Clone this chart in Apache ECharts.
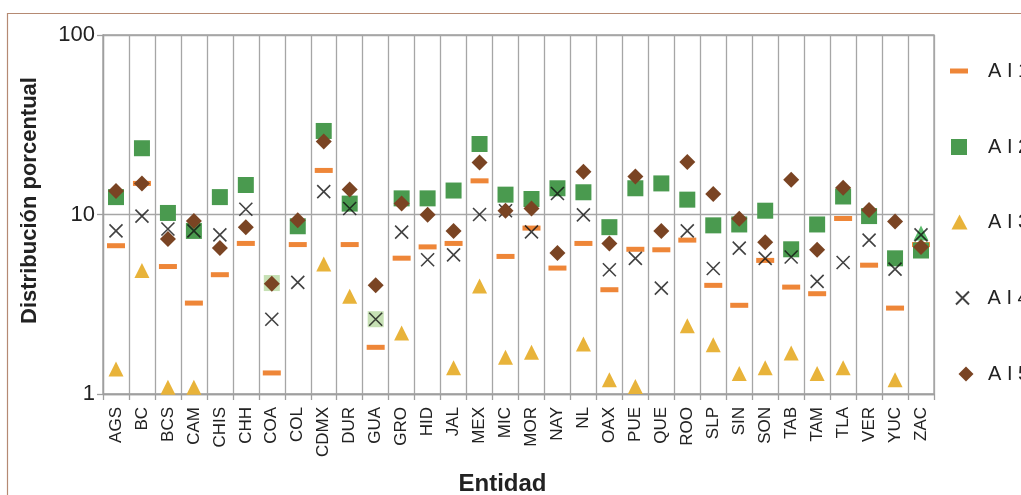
<!DOCTYPE html>
<html>
<head>
<meta charset="utf-8">
<script src="https://cdn.jsdelivr.net/npm/echarts@6/dist/echarts.min.js"></script>
<style>
  html, body { margin: 0; padding: 0; background: #ffffff; }
  #chart { width: 1021px; height: 495px; }
</style>
</head>
<body>
<div id="chart"></div>
<script>
// Entidades federativas
const categories = ['AGS','BC','BCS','CAM','CHIS','CHH','COA','COL','CDMX','DUR','GUA','GRO','HID','JAL','MEX','MIC','MOR','NAY','NL','OAX','PUE','QUE','ROO','SLP','SIN','SON','TAB','TAM','TLA','VER','YUC','ZAC'];

// Distribución porcentual por indicador (null = sin valor en la escala)
const ai1 = [6.7,14.9,5.13,3.21,4.62,6.9,1.31,6.8,17.6,6.8,1.82,5.71,6.6,6.9,15.4,5.84,8.4,5.03,6.9,3.81,6.4,6.36,7.2,4.03,3.12,5.55,3.94,3.62,9.5,5.22,3.01,6.8];
const ai2 = [12.5,23.4,10.2,8.1,12.5,14.6,4.15,8.6,29.2,11.5,2.61,12.3,12.3,13.6,24.7,12.9,12.2,14.0,13.3,8.5,14.0,14.9,12.1,8.7,8.8,10.5,6.4,8.8,12.6,9.8,5.7,6.3];
const ai3 = [1.38,4.88,1.09,1.09,null,null,null,null,5.3,3.5,null,2.19,null,1.40,4.0,1.60,1.71,null,1.90,1.20,1.10,null,2.40,1.88,1.30,1.40,1.69,1.30,1.40,null,1.20,7.9];
const ai4 = [8.1,9.8,8.3,8.1,7.7,10.7,2.61,4.19,13.4,10.8,2.61,7.97,5.6,5.96,10.0,10.5,8.0,13.1,9.96,4.92,5.7,3.89,8.1,5.0,6.5,5.7,5.8,4.24,5.4,7.2,4.96,7.7];
const ai5 = [13.5,14.9,7.3,9.2,6.5,8.5,4.11,9.3,25.5,13.8,4.03,11.5,9.96,8.1,19.5,10.5,10.8,6.1,17.3,6.9,16.3,8.1,19.6,13.0,9.46,7.0,15.6,6.36,14.1,10.6,9.15,6.6];

// Puntos destacados con color propio: [serie, entidad, color]
const highlights = [
  ['AI2', 'COA', '#c6e0b4'],
  ['AI2', 'GUA', '#c6e0b4'],
  ['AI3', 'ZAC', '#5bbb6b']
];

const yTicks = [1, 10, 100];

const crossPath = 'path://M0,0L10,10M0,10L10,0';

const seriesDefs = [
  { name: 'AI1', data: ai1, symbol: 'rect', size: [18, 5], color: '#ee8638', icon: 'rect', iw: 18, ih: 5, cx: 959, shift: 0 },
  { name: 'AI2', data: ai2, symbol: 'rect', size: [16, 16], color: '#4a9a4f', icon: 'rect', iw: 16, ih: 16, cx: 959, shift: 0 },
  { name: 'AI3', data: ai3, symbol: 'triangle', size: [15, 15], color: '#e8b33a', icon: 'triangle', iw: 16, ih: 15, cx: 959.5, shift: 0 },
  { name: 'AI4', data: ai4, symbol: crossPath, size: [13, 13], color: 'none', border: '#111111', icon: crossPath, iw: 13, ih: 13, cx: 960, shift: -3 },
  { name: 'AI5', data: ai5, symbol: 'diamond', size: [16, 16], color: '#7a4423', icon: 'diamond', iw: 15, ih: 15, cx: 966, shift: 0 }
];

function buildData(def) {
  return def.data.map(function (v, i) {
    const hl = highlights.find(function (h) { return h[0] === def.name && h[1] === categories[i]; });
    if (v === null) return [categories[i], null];
    if (hl) return { value: [categories[i], v], itemStyle: { color: hl[2] } };
    return [categories[i], v];
  });
}

const series = seriesDefs.map(function (def) {
  const itemStyle = def.border
    ? { color: 'none', borderColor: def.border, borderWidth: 1.6 }
    : { color: def.color, opacity: 1 };
  return {
    name: def.name,
    type: 'scatter',
    symbol: def.symbol,
    symbolSize: def.size,
    itemStyle: itemStyle,
    emphasis: { disabled: true },
    data: buildData(def)
  };
});

// Leyenda vertical a la derecha, una fila por indicador
const legendTextX = 988;
const legendRows = [71, 147, 222, 298, 374];
const legends = seriesDefs.map(function (def, i) {
  const left = def.cx - def.iw / 2;
  const pad = legendTextX - (left + def.iw + 5) + def.shift;
  return {
    data: [{ name: def.name, icon: def.icon }],
    left: left,
    top: legendRows[i] - 10,
    padding: 0,
    itemWidth: def.iw,
    itemHeight: def.ih,
    selectedMode: false,
    formatter: function (name) { return name.split('').join(' '); },
    textStyle: {
      fontFamily: 'Liberation Sans',
      fontSize: 20,
      lineHeight: 20,
      color: '#222222',
      padding: [0, 0, 0, pad]
    }
  };
});

const chart = echarts.init(document.getElementById('chart'), null, { renderer: 'canvas' });

chart.setOption({
  backgroundColor: '#ffffff',
  animation: false,
  textStyle: { fontFamily: 'Liberation Sans' },
  legend: legends,
  grid: {
    left: 103, right: 87, top: 35, bottom: 101,
    outerBoundsMode: 'none',
    show: true, borderColor: '#9f9f9f', borderWidth: 1.3,
    containLabel: false
  },
  xAxis: {
    type: 'category',
    data: categories,
    boundaryGap: true,
    name: 'Entidad',
    nameLocation: 'middle',
    nameGap: 78,
    nameTextStyle: { fontFamily: 'Liberation Sans', fontWeight: 'bold', fontSize: 24, color: '#222222', padding: [0, 32, 0, 0] },
    axisLine: { show: true, lineStyle: { color: '#9f9f9f', width: 1.3 } },
    axisTick: { show: true, length: 6, interval: 0, lineStyle: { color: '#9f9f9f', width: 1.3 } },
    axisLabel: { rotate: 90, interval: 0, margin: 13, fontSize: 17, color: '#222222', fontFamily: 'Liberation Sans' },
    splitLine: { show: true, interval: 0, lineStyle: { color: '#a6a6a6', width: 1.3 } }
  },
  yAxis: {
    type: 'log',
    logBase: 10,
    min: yTicks[0],
    max: yTicks[yTicks.length - 1],
    name: 'Distribución porcentual',
    nameLocation: 'middle',
    nameGap: 62,
    nameTextStyle: { fontFamily: 'Liberation Sans', fontWeight: 'bold', fontSize: 22, color: '#222222', padding: [0, 0, 0, 28] },
    axisLine: { show: true, lineStyle: { color: '#9f9f9f', width: 1.3 } },
    axisTick: { show: true, length: 6, lineStyle: { color: '#9f9f9f', width: 1.3 } },
    axisLabel: { fontSize: 22, color: '#222222', margin: 8, fontFamily: 'Liberation Sans' },
    splitLine: { show: true, lineStyle: { color: '#a6a6a6', width: 1.3 } }
  },
  graphic: [
    {
      type: 'polyline',
      silent: true,
      shape: { points: [[7.5, 495], [7.5, 13.5], [1021, 13.5]] },
      style: { stroke: '#b58a73', lineWidth: 1.2, fill: null }
    }
  ],
  series: series
});
</script>
</body>
</html>
